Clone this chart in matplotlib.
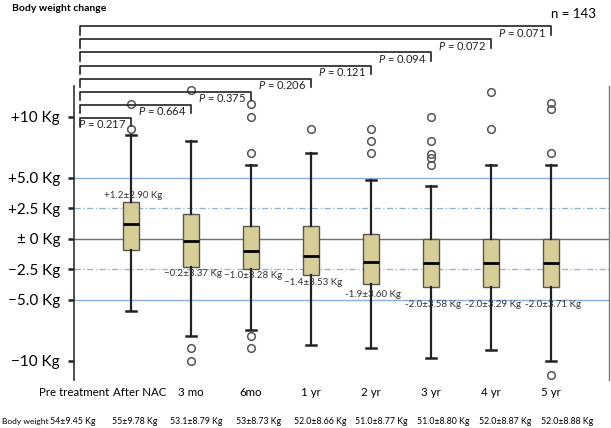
import matplotlib
matplotlib.use("Agg")
import matplotlib.pyplot as plt

plt.rcParams['font.family'] = ['Lato', 'DejaVu Sans']
plt.rcParams['mathtext.fontset'] = 'custom'
plt.rcParams['mathtext.it'] = 'Lato:italic'
plt.rcParams['mathtext.rm'] = 'Lato'

# data
groups = ["Pre treatment", "After NAC", "3 mo", "6mo", "1 yr", "2 yr", "3 yr", "4 yr", "5 yr"]
med = [1.2, -0.2, -1.0, -1.4, -1.9, -2.0, -2.0, -2.0]
q1 = [-0.9, -2.3, -2.5, -3.0, -3.7, -4.0, -4.0, -4.0]
q3 = [3.0, 2.0, 1.0, 1.0, 0.4, 0.0, 0.0, 0.0]
whislo = [-5.9, -8.0, -7.5, -8.7, -9.0, -9.8, -9.1, -10.0]
whishi = [8.5, 8.0, 6.0, 7.0, 4.8, 4.3, 6.0, 6.0]
fliers = [
    [9.0, 11.0],
    [12.2, -9.0, -10.0],
    [7.0, 10.0, 11.0, -8.0, -9.0],
    [9.0],
    [7.0, 8.0, 9.0],
    [6.0, 6.6, 6.9, 8.0, 10.0],
    [9.0, 12.0],
    [7.0, 10.6, 11.1, -11.2],
]
mean_sd = ["+1.2\u00b12.90 Kg", "\u22120.2\u00b13.37 Kg", "\u22121.0\u00b13.28 Kg",
           "\u22121.4\u00b13.53 Kg", "-1.9\u00b13.60 Kg", "-2.0\u00b13.58 Kg",
           "-2.0\u00b13.29 Kg", "-2.0\u00b13.71 Kg"]
p_values = ["0.217", "0.664", "0.375", "0.206", "0.121", "0.094", "0.072", "0.071"]
body_weight = ["54\u00b19.45 Kg", "55\u00b19.78 Kg", "53.1\u00b18.79 Kg", "53\u00b18.73 Kg",
               "52.0\u00b18.66 Kg", "51.0\u00b18.77 Kg", "51.0\u00b18.80 Kg",
               "52.0\u00b18.87 Kg", "52.0\u00b18.88 Kg"]
yticks = [10, 5, 2.5, 0, -2.5, -5, -10]
ytick_labels = ["+10 Kg", "+5.0 Kg", "+2.5 Kg", "\u00b1 0 Kg", "\u22122.5 Kg", "\u22125.0 Kg", "\u221210 Kg"]
n_total = 143

# layout (positions only)
mean_label_y = [3.5, -2.9, -3.05, -3.6, -4.6, -5.4, -5.4, -5.4]

fig = plt.figure(figsize=(6.11, 4.28), dpi=100)
ax = fig.add_axes([0.121, 0.112, 0.876, 0.687])
ax.set_xlim(0.05, 8.97)
ax.set_ylim(-11.6, 12.5)

blue = "#8AB0E0"
for y in [5, -5]:
    ax.axhline(y, color=blue, lw=1.0, zorder=1)
for y in [2.5, -2.5]:
    ax.axhline(y, color=blue, lw=0.9, ls=(0, (5, 2, 1, 2)), zorder=1)
ax.axhline(0, color="#707070", lw=1.0, zorder=1)

stats = []
for i in range(len(med)):
    stats.append(dict(med=med[i], q1=q1[i], q3=q3[i], whislo=whislo[i],
                      whishi=whishi[i], fliers=fliers[i]))
positions = list(range(1, len(groups)))
ax.bxp(stats, positions=positions, widths=0.26, patch_artist=True,
       boxprops=dict(facecolor="#D6CE96", edgecolor="#555555", lw=1.0),
       medianprops=dict(color="black", lw=2.0),
       whiskerprops=dict(color="#222222", lw=1.6),
       capprops=dict(color="#222222", lw=1.8),
       capwidths=0.17,
       flierprops=dict(marker="o", markerfacecolor="none", markeredgecolor="#555555",
                       markersize=5.5, markeredgewidth=1.1),
       manage_ticks=False, zorder=3)

for i, s in enumerate(mean_sd):
    ax.text(positions[i] + 0.03, mean_label_y[i], s, ha="center", va="center",
            fontsize=7, color="#333333", zorder=4)

# spines
for side in ["top", "bottom"]:
    ax.spines[side].set_visible(False)
ax.spines["left"].set_color("#333333")
ax.spines["left"].set_linewidth(1.2)
ax.spines["right"].set_color("#777777")
ax.spines["right"].set_linewidth(1.0)

ax.set_yticks(yticks)
ax.set_yticklabels(ytick_labels, fontsize=11)
ax.tick_params(axis="y", length=4, width=1.8, color="#222222", pad=6)
ax.set_xticks([0.05, 1.15] + positions[1:])
ax.set_xticklabels(groups, fontsize=8.3)
ax.tick_params(axis="x", length=0, pad=5)

# significance brackets from pre treatment to each time point
step = 1.07
drop = 0.7
for k, p in enumerate(p_values, start=1):
    y = 9.9 + step * (k - 1)
    ax.plot([0.15, 0.15, k, k], [y - drop, y, y, y - drop], color="#222222",
            lw=1.2, clip_on=False, zorder=5)
    ax.text(k - 0.08, y - 0.55, "$P$ = " + p, ha="right", va="center",
            fontsize=8, color="#222222", clip_on=False)

ax.text(8.37, 18.4, "n = %d" % n_total, ha="center", va="center", fontsize=9.5)
fig.text(0.02, 0.99, "Body weight change", ha="left", va="top",
         fontsize=7.5, fontweight="bold")

# body weight row
fig.text(0.003, 0.015, "Body weight", ha="left", va="center", fontsize=6)
for i, s in enumerate(body_weight):
    ax.text(i * 1.03 + 0.03, -15.0, s, ha="center", va="center", fontsize=6.3,
            clip_on=False)

fig.savefig("out.png", dpi=100)
